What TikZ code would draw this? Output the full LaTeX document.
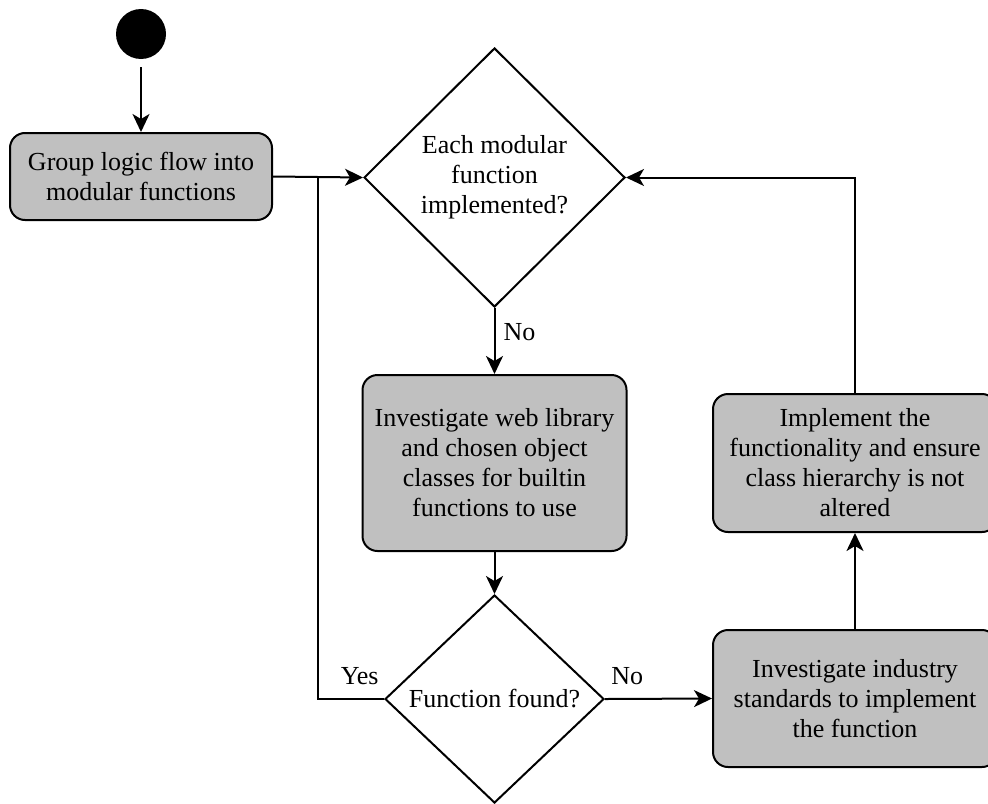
\documentclass[tikz,border=0pt]{standalone}
\usepackage{fontspec}
\setmainfont{Liberation Serif}
\usetikzlibrary{shapes.geometric,arrows.meta,positioning}
\definecolor{boxgrey}{RGB}{192,192,192}

\begin{document}
\begin{tikzpicture}[x=0.5pt, y=-0.5pt,
    activity/.style={rectangle, draw, line width=1pt, fill=boxgrey, rounded corners=7.5pt,
                     align=center, inner sep=0pt, font=\fontsize{13}{15}\selectfont},
    decision/.style={diamond, draw, line width=1pt, fill=white, align=center,
                     inner sep=0pt, font=\fontsize{13}{15}\selectfont},
    flowlabel/.style={font=\fontsize{13}{15}\selectfont, inner sep=0pt},
    >={Stealth[length=9pt, width=8.5pt, inset=2.5pt]},
]
    \useasboundingbox (0,0) rectangle (988,803);

    % Start
    \node[circle, fill=black, minimum size=25pt, inner sep=0pt] (start) at (141,34) {};

    % Activities
    \node[activity, minimum width=131pt, minimum height=43.5pt] (group) at (141,176.5)
          {Group logic flow into\\modular functions};
    \node[activity, minimum width=132pt, minimum height=88pt] (search) at (494.5,463)
          {Investigate web library\\and chosen object\\classes for builtin\\functions to use};
    \node[activity, minimum width=142pt, minimum height=68.5pt] (standards) at (855,698.5)
          {Investigate industry\\standards to implement\\the function};
    \node[activity, minimum width=142pt, minimum height=69pt] (implement) at (855,463)
          {Implement the\\functionality and ensure\\class hierarchy is not\\altered};

    % Decisions
    \node[decision, minimum width=130.5pt, minimum height=129.5pt] (alldone) at (494.5,177.5)
          {Each modular\\function\\implemented?};
    \node[decision, minimum width=109.5pt, minimum height=104pt] (found) at (494.5,699)
          {Function found?};

    % Connectors
    \coordinate (loop) at (318,177.5);
    \draw[->, line width=1pt, shorten <=4pt] (start) -- (group);
    \draw[->, line width=1pt] (group.east) -- (alldone.west);
    \draw[->, line width=1pt] (alldone.south) -- (search.north)
          node[flowlabel, pos=0.37, right=4pt] {No};
    \draw[->, line width=1pt] (search.south) -- (found.north);
    \draw[line width=1pt] (found.west) -| (loop);
    \node[flowlabel, anchor=south east] (yes) at ([xshift=-2.5pt, yshift=7pt]found.west) {Yes};
    \draw[->, line width=1pt] (found.east) -- (standards.west);
    \node[flowlabel, anchor=south west] (no) at ([xshift=3pt, yshift=7pt]found.east) {No};
    \draw[->, line width=1pt] (standards.north) -- (implement.south);
    \draw[->, line width=1pt] (implement.north) |- (alldone.east);
\end{tikzpicture}
\end{document}
